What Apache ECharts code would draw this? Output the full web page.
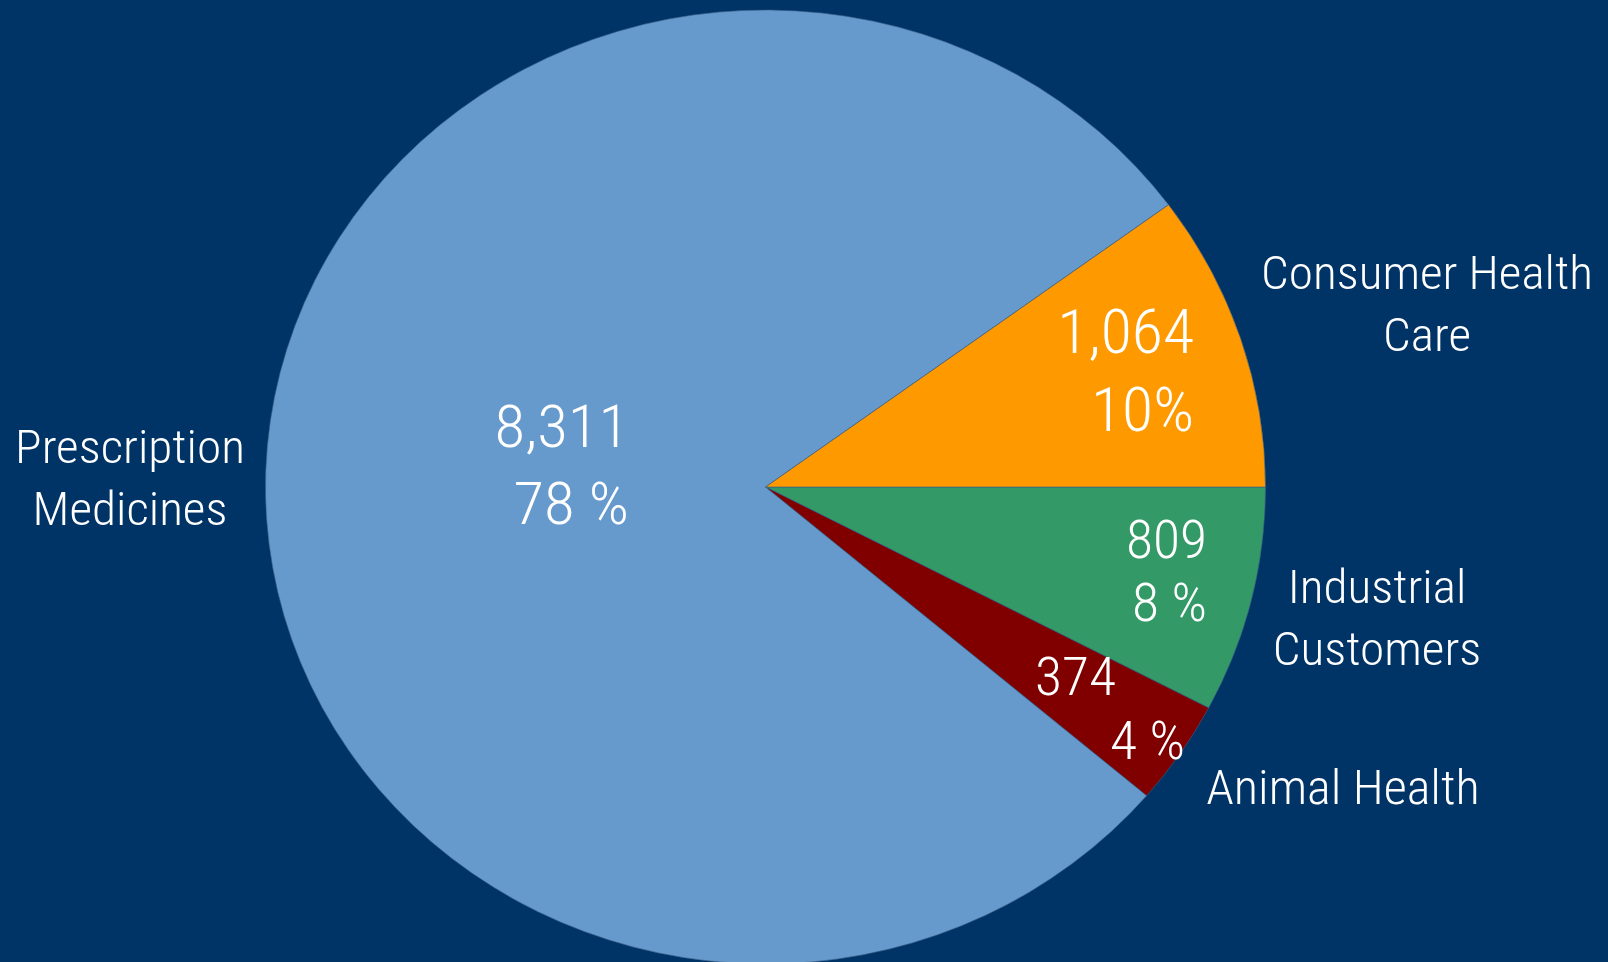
<!DOCTYPE html>
<html>
<head>
<meta charset="utf-8">
<script src="https://cdn.jsdelivr.net/npm/echarts@6/dist/echarts.min.js"></script>
<style>
  html, body { margin: 0; padding: 0; background: #003366; overflow: hidden; width: 1608px; height: 962px; }
  #chart { width: 1534px; height: 962px; transform: scaleX(1.04824); transform-origin: 0 0; }
  #chart text { font-stretch: condensed !important; }
</style>
</head>
<body>
<div id="chart"></div>
<script>
// ---- data ----
const categories = ['Industrial Customers', 'Animal Health', 'Prescription Medicines', 'Consumer Health Care'];
const nameLabels = ['Industrial\nCustomers', 'Animal Health', 'Prescription\nMedicines', 'Consumer Health\nCare'];
const values = [809, 374, 8311, 1064];
const percentLabels = ['8 %', '4 %', '78 %', '10%'];
const colors = ['#339966', '#800000', '#6699CC', '#FF9900'];

// ---- layout (page px, before horizontal stretch) ----
const S = 1.04824;
const FONT = "Roboto, 'Open Sans', 'Liberation Sans', sans-serif";
const WEIGHT = 300;
const innerPos = [[1207, 571, 'right'], [1035, 709, 'left'], [629, 465, 'right'], [1194, 371, 'right']];
const innerFont = [53, 53, 60, 61];
const innerLH = [63, 64, 78, 78];
const innerBoxW = 150; // width of the two-line box for the small slice
const outerPos = [[1377, 618], [1343, 787], [130, 478], [1427, 304]];
const outerFont = [47, 48, 47, 47];
const outerLH = 62;

const fmt = v => v.toLocaleString('en-US');

const innerData = values.map((v, i) => {
  const item = { name: categories[i], value: v, itemStyle: { color: colors[i] } };
  if (i === 1) {
    const tok = { fontSize: innerFont[i], lineHeight: innerLH[i], color: '#fff', fontFamily: FONT, fontWeight: WEIGHT };
    item.label = {
      formatter: () => '{a|' + fmt(v) + '}\n{b|' + percentLabels[i] + '}',
      width: innerBoxW / S,
      rich: {
        a: Object.assign({ align: 'left' }, tok),
        b: Object.assign({ align: 'right' }, tok)
      }
    };
  } else {
    item.label = {
      formatter: () => fmt(v) + '\n' + percentLabels[i],
      fontSize: innerFont[i],
      lineHeight: innerLH[i]
    };
  }
  return item;
});

const outerData = values.map((v, i) => ({
  name: categories[i], value: v,
  itemStyle: { color: 'rgba(0,0,0,0)', borderWidth: 0 },
  label: { formatter: () => nameLabels[i], fontSize: outerFont[i] }
}));

const common = {
  type: 'pie',
  center: [765.5 / S, 487],
  radius: 477,
  startAngle: 0,
  clockwise: true,
  avoidLabelOverlap: false,
  silent: true,
  animation: false,
  labelLine: { show: false },
  emphasis: { disabled: true }
};

const chart = echarts.init(document.getElementById('chart'), null, { renderer: 'svg' });
chart.setOption({
  backgroundColor: '#003366',
  series: [
    Object.assign({}, common, {
      name: 'segments',
      itemStyle: { borderColor: '#3a5f86', borderWidth: 0.6 },
      label: { show: true, position: 'inside', color: '#fff', fontFamily: FONT, fontWeight: WEIGHT },
      labelLayout: p => ({
        x: innerPos[p.dataIndex][0] / S,
        y: innerPos[p.dataIndex][1],
        align: innerPos[p.dataIndex][2],
        verticalAlign: 'middle'
      }),
      data: innerData
    }),
    Object.assign({}, common, {
      name: 'names',
      z: 3,
      label: { show: true, position: 'inside', color: '#fff', fontFamily: FONT, fontWeight: WEIGHT, lineHeight: outerLH, align: 'center' },
      labelLayout: p => ({
        x: outerPos[p.dataIndex][0] / S,
        y: outerPos[p.dataIndex][1],
        align: 'center',
        verticalAlign: 'middle'
      }),
      data: outerData
    })
  ]
});
</script>
</body>
</html>
